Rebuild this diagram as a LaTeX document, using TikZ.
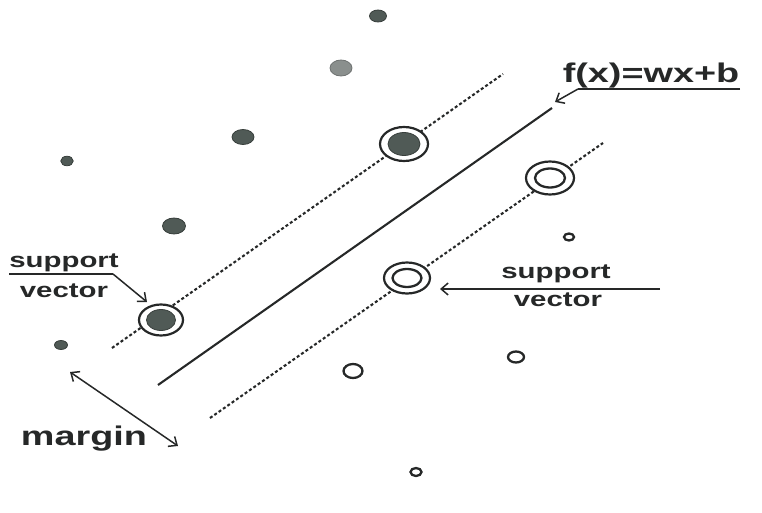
\documentclass[tikz,border=0pt]{standalone}
\usepackage{fontspec}
\setmainfont{Liberation Sans}
\usetikzlibrary{shapes.geometric,arrows.meta}
\definecolor{ink}{RGB}{38,40,40}
\definecolor{dotfill}{RGB}{80,90,86}
\definecolor{dotlight}{RGB}{138,143,141}
\begin{document}
\begin{tikzpicture}[x=1pt,y=-1pt,
  pt/.style={ellipse, inner sep=0pt, fill=dotfill, draw=dotfill!70!black, line width=0.8pt},
  ring/.style={ellipse, inner sep=0pt, draw=ink, line width=2.2pt, fill=white},
  core/.style={ellipse, inner sep=0pt, fill=dotfill, draw=dotfill!70!black, line width=0.8pt},
  hollow/.style={ellipse, inner sep=0pt, draw=ink, line width=2.3pt, fill=white},
  lbl/.style={font=\bfseries, text=ink, inner sep=0pt, xscale=1.4, anchor=base},
  small/.style={font=\fontsize{21}{23}\bfseries\selectfont},
  large/.style={font=\fontsize{27}{29}\bfseries\selectfont},
  hyper/.style={draw=ink, line width=2.1pt},
  margline/.style={draw=ink, line width=2.1pt, dash pattern=on 3pt off 2.3pt},
  pointer/.style={draw=ink, line width=1.5pt, -{Straight Barb[length=7pt,width=12pt]}},
  uline/.style={draw=ink, line width=1.5pt},
]
\useasboundingbox (0,0) rectangle (762,513);

% separating hyperplane and the two margin lines
\coordinate (h1) at (158,385);
\coordinate (h2) at (552,108);
\coordinate (u1) at (112,348);
\coordinate (u2) at (503,74);
\coordinate (l1) at (210,418);
\coordinate (l2) at (603,143);
\draw[hyper] (h1) -- (h2);
\draw[margline] (u1) -- (u2);
\draw[margline] (l1) -- (l2);

% class A samples (filled)
\node[pt, minimum width=17pt, minimum height=12pt] (a1) at (378,16) {};
\node[pt, fill=dotlight, draw=dotlight!80!black, minimum width=22pt, minimum height=16pt] (a2) at (341,68) {};
\node[pt, minimum width=22pt, minimum height=15pt] (a3) at (243,137) {};
\node[pt, minimum width=12.5pt, minimum height=9.5pt] (a4) at (67,161) {};
\node[pt, minimum width=23pt, minimum height=16pt] (a5) at (174,226) {};
\node[pt, minimum width=13pt, minimum height=9pt] (a6) at (61,345) {};

% class A support vectors
\node[ring, minimum width=48pt, minimum height=34pt] (sa1) at (404,144) {};
\node[core, minimum width=32pt, minimum height=23pt] at (sa1) {};
\node[ring, minimum width=44pt, minimum height=31pt] (sa2) at (161,320) {};
\node[core, minimum width=29pt, minimum height=21pt] at (sa2) {};

% class B support vectors
\node[ring, minimum width=48pt, minimum height=33pt] (sb1) at (550,178) {};
\node[hollow, minimum width=30pt, minimum height=19pt] at (sb1) {};
\node[ring, minimum width=46pt, minimum height=31pt] (sb2) at (407,278) {};
\node[hollow, minimum width=29pt, minimum height=18pt] at (sb2) {};

% class B samples (hollow)
\node[hollow, minimum width=19pt, minimum height=14pt] (b1) at (353,371) {};
\node[hollow, minimum width=16pt, minimum height=11pt] (b2) at (516,357) {};
\node[hollow, minimum width=11pt, minimum height=8pt] (b3) at (416,472) {};
\node[hollow, minimum width=10pt, minimum height=7pt] (b4) at (569,237) {};

% hyperplane label
\node[lbl, large] (fx) at (651,83) {f(x)=wx+b};
\coordinate (fxa) at (578,89);
\coordinate (fxb) at (740,89);
\coordinate (fxt) at (555,102);
\draw[uline] (fxb) -- (fxa);
\draw[pointer] (fxa) -- (fxt);

% left support vector label
\node[lbl, small] (ls) at (64,267) {support};
\node[lbl, small] (lv) at (64,297) {vector};
\coordinate (lsa) at (9,274);
\coordinate (lsb) at (113,274);
\coordinate (lst) at (147,302);
\draw[uline] (lsa) -- (lsb);
\draw[pointer] (lsb) -- (lst);

% right support vector label
\node[lbl, small] (rs) at (556,278) {support};
\node[lbl, small] (rv) at (558,306) {vector};
\coordinate (rsa) at (660,289);
\coordinate (rst) at (440,289);
\draw[pointer] (rsa) -- (rst);

% margin label
\node[lbl, large] (mg) at (84,445) {margin};
\coordinate (m1) at (70,372);
\coordinate (m2) at (178,446);
\draw[pointer, {Straight Barb[length=7pt,width=12pt]}-{Straight Barb[length=7pt,width=12pt]}] (m1) -- (m2);
\end{tikzpicture}
\end{document}
